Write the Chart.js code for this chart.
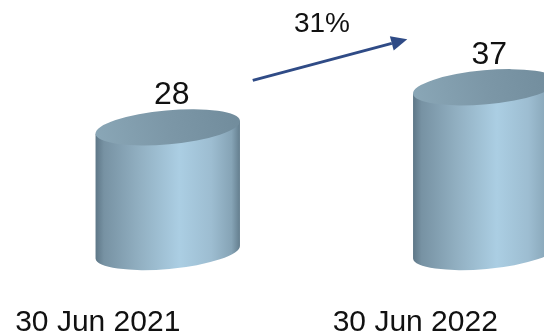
<!DOCTYPE html>
<html>
<head>
<meta charset="utf-8">
<script src="https://cdn.jsdelivr.net/npm/chart.js@4.4.0/dist/chart.umd.min.js"></script>
<style>
  html, body { margin: 0; padding: 0; background: #fff; overflow: hidden; }
  #wrap { width: 652px; height: 335px; position: relative; }
</style>
</head>
<body>
<div id="wrap"><canvas id="chart"></canvas></div>
<script>
// chart data
const categories = ['30 Jun 2021', '30 Jun 2022'];
const values = [28, 37];
const growthLabel = '31%';

const FONT = "'Liberation Sans', Arial, sans-serif";

// draws a shaded cylinder for one bar element
function drawCylinder(ctx, cx, top, base, w) {
    const rx = w / 2, ry = 17, rot = -0.09;

    const side = ctx.createLinearGradient(cx - rx, 0, cx + rx, 0);
    side.addColorStop(0, '#5d7686');
    side.addColorStop(0.06, '#7792a3');
    side.addColorStop(0.3, '#91afc1');
    side.addColorStop(0.58, '#abcee3');
    side.addColorStop(0.8, '#9dbdd1');
    side.addColorStop(0.94, '#86a4b6');
    side.addColorStop(1, '#637d8d');

    const cos = Math.cos(rot), sin = Math.sin(rot);
    ctx.save();
    ctx.beginPath();
    ctx.ellipse(cx, base, rx, ry, rot, 0, Math.PI);
    ctx.lineTo(cx - rx * cos, top - rx * sin);
    ctx.lineTo(cx + rx * cos, top + rx * sin);
    ctx.closePath();
    ctx.fillStyle = side;
    ctx.fill();

    const lid = ctx.createLinearGradient(cx - rx, top + ry, cx + rx, top - ry);
    lid.addColorStop(0, '#8aa7b7');
    lid.addColorStop(0.5, '#7c97a7');
    lid.addColorStop(1, '#718c9c');
    ctx.beginPath();
    ctx.ellipse(cx, top, rx, ry, rot, 0, Math.PI * 2);
    ctx.fillStyle = lid;
    ctx.fill();
    ctx.restore();
}

const cylinderPlugin = {
    id: 'cylinders',
    afterDatasetsDraw(chart) {
        const ctx = chart.ctx;
        const bars = chart.getDatasetMeta(0).data;

        bars.forEach((bar) => {
            drawCylinder(ctx, bar.x, bar.y, bar.base, bar.width);
        });

        // value labels
        ctx.save();
        ctx.fillStyle = '#111';
        ctx.font = '32px ' + FONT;
        ctx.textAlign = 'center';
        ctx.textBaseline = 'middle';
        bars.forEach((bar, i) => {
            ctx.fillText(String(values[i]), bar.x + 4, bar.y - 32);
        });

        // growth arrow between the two bars
        const a = bars[0], b = bars[1];
        const x1 = a.x + 85, y1 = a.y - 47;
        const x2 = b.x - 78, y2 = b.y - 48;
        const ang = Math.atan2(y2 - y1, x2 - x1);
        const headLen = 16, headW = 7.5;
        const bx = x2 - headLen * Math.cos(ang), by = y2 - headLen * Math.sin(ang);

        ctx.strokeStyle = '#2f4b86';
        ctx.fillStyle = '#2f4b86';
        ctx.lineWidth = 3;
        ctx.beginPath();
        ctx.moveTo(x1, y1);
        ctx.lineTo(bx, by);
        ctx.stroke();
        ctx.beginPath();
        ctx.moveTo(x2, y2);
        ctx.lineTo(bx + headW * Math.sin(ang), by - headW * Math.cos(ang));
        ctx.lineTo(bx - headW * Math.sin(ang), by + headW * Math.cos(ang));
        ctx.closePath();
        ctx.fill();

        ctx.fillStyle = '#111';
        ctx.font = '28px ' + FONT;
        ctx.fillText(growthLabel, (x1 + x2) / 2 - 8, (y1 + y2) / 2 - 36);
        ctx.restore();
    }
};

const ctx = document.getElementById('chart').getContext('2d');
const chart = new Chart(ctx, {
    type: 'bar',
    data: {
        labels: categories,
        datasets: [{
            data: values,
            backgroundColor: 'rgba(0,0,0,0)',
            barThickness: 145
        }]
    },
    options: {
        responsive: true,
        maintainAspectRatio: false,
        animation: false,
        layout: { padding: { left: 9, right: 8, top: 0, bottom: 0 } },
        plugins: {
            legend: { display: false },
            tooltip: { enabled: false }
        },
        scales: {
            x: {
                grid: { display: false, drawTicks: false },
                border: { display: false },
                afterFit(scale) { scale.height = 83; },
                ticks: {
                    color: '#111',
                    padding: 53,
                    labelOffset: -70,
                    font: { family: FONT, size: 30 }
                }
            },
            y: {
                display: false,
                min: 0,
                max: 56.6
            }
        }
    },
    plugins: [cylinderPlugin]
});
</script>
</body>
</html>
